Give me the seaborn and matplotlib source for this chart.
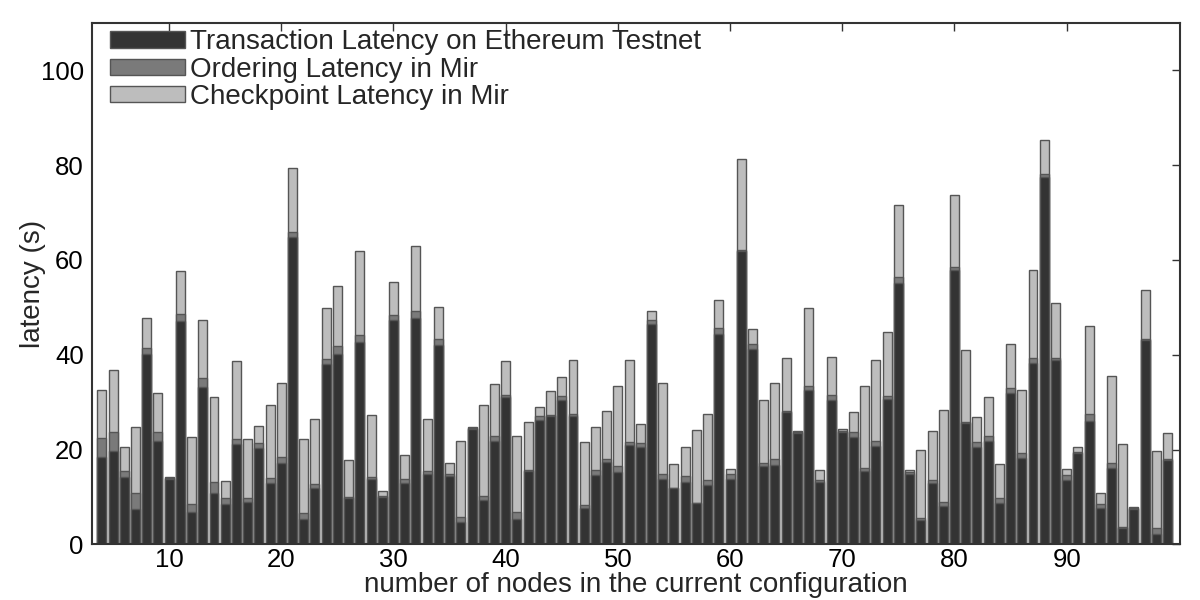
import numpy as np
import pandas as pd
import matplotlib
matplotlib.use("Agg")
import matplotlib.pyplot as plt
from matplotlib.patches import Patch
import seaborn as sns

nodes = list(range(4, 100))

# top of the dark segment (transaction latency)
tx_latency = [
    18.5, 19.6, 14.3, 7.4, 40.1, 21.7, 13.8, 47.1, 6.8, 33.2,
    10.9, 8.5, 21.1, 8.9, 20.4, 13.0, 17.2, 64.8, 5.3, 11.9,
    38.0, 40.1, 9.7, 42.7, 13.7, 9.9, 47.4, 13.0, 47.7, 14.9,
    42.1, 14.4, 4.8, 24.4, 9.4, 21.7, 31.0, 5.3, 15.4, 26.2,
    27.0, 30.5, 27.1, 7.7, 14.7, 17.3, 15.2, 20.9, 20.6, 46.5,
    13.7, 11.8, 13.2, 8.7, 12.5, 44.4, 13.8, 61.8, 41.2, 16.5,
    16.8, 27.9, 23.5, 32.5, 13.1, 30.4, 23.8, 22.6, 15.4, 20.8,
    30.6, 55.1, 14.9, 5.1, 12.9, 8.1, 57.8, 25.5, 20.6, 21.8,
    8.7, 32.0, 18.2, 38.2, 77.5, 38.8, 13.5, 19.2, 26.1, 7.7,
    16.1, 3.4, 7.4, 43.1, 2.2, 17.7,
]
# top of the medium segment (transaction + ordering)
ordering_top = [
    22.4, 23.6, 15.4, 10.8, 41.5, 23.7, 14.0, 48.5, 8.6, 35.0,
    13.1, 9.7, 22.3, 9.7, 21.3, 14.0, 18.5, 65.8, 6.7, 12.8,
    39.2, 41.8, 10.0, 44.1, 14.2, 10.2, 48.4, 13.8, 49.2, 15.5,
    43.3, 14.9, 5.8, 24.6, 10.2, 22.8, 31.6, 6.8, 15.6, 27.0,
    27.3, 31.4, 27.6, 8.3, 15.6, 18.1, 16.6, 21.6, 21.3, 47.4,
    14.9, 11.9, 14.5, 8.8, 13.5, 45.6, 14.9, 62.2, 42.2, 17.2,
    17.9, 28.1, 23.7, 33.5, 13.6, 31.5, 24.0, 23.6, 16.0, 21.8,
    31.4, 56.4, 15.2, 5.6, 13.5, 9.0, 58.5, 25.8, 21.6, 22.9,
    9.8, 33.0, 19.2, 39.4, 78.2, 39.4, 14.6, 19.5, 27.4, 8.5,
    17.2, 3.7, 7.6, 43.4, 3.4, 18.1,
]
# top of the light segment (transaction + ordering + checkpoint)
checkpoint_top = [
    32.5, 36.8, 20.6, 24.8, 47.8, 31.9, 14.1, 57.7, 22.7, 47.3,
    31.1, 13.4, 38.7, 22.2, 25.0, 29.5, 34.0, 79.4, 22.2, 26.4,
    49.9, 54.6, 17.8, 61.9, 27.2, 11.2, 55.3, 18.8, 63.0, 26.4,
    50.1, 17.1, 21.8, 24.7, 29.3, 33.9, 38.6, 22.8, 25.8, 28.9,
    32.3, 35.4, 38.8, 21.5, 24.7, 28.1, 33.3, 38.9, 25.3, 49.3,
    34.0, 16.9, 20.5, 24.1, 27.4, 51.6, 15.9, 81.4, 45.4, 30.4,
    34.0, 39.3, 23.9, 49.8, 15.7, 39.6, 24.4, 27.9, 33.4, 38.9,
    44.8, 71.6, 15.6, 19.9, 23.9, 28.3, 73.8, 41.1, 26.9, 31.1,
    16.9, 42.2, 32.5, 57.8, 85.3, 50.9, 15.9, 20.6, 46.0, 10.9,
    35.6, 21.1, 7.9, 53.7, 19.6, 23.4,
]

ordering_latency = [round(o - t, 1) for o, t in zip(ordering_top, tx_latency)]
checkpoint_latency = [round(c - o, 1) for c, o in zip(checkpoint_top, ordering_top)]

series_labels = [
    "Transaction Latency on Ethereum Testnet",
    "Ordering Latency in Mir",
    "Checkpoint Latency in Mir",
]
xticks = [10, 20, 30, 40, 50, 60, 70, 80, 90]
yticks = [0, 20, 40, 60, 80, 100]

df = pd.DataFrame({"nodes": nodes, "tx": tx_latency,
                   "ord": ordering_latency, "ckpt": checkpoint_latency})
df["s1"] = df["tx"]
df["s2"] = df["tx"] + df["ord"]
df["s3"] = df["s2"] + df["ckpt"]

sns.set_style("white")
plt.rcParams["font.family"] = ["Liberation Sans", "DejaVu Sans"]

c_dark, c_mid, c_light = "#333333", "#7a7a7a", "#bdbdbd"
edge = "#555555"

fig = plt.figure(figsize=(12, 6), dpi=100)
ax = fig.add_axes([0.0767, 0.0928, 0.9066, 0.8689])

for col, color in [("s3", c_light), ("s2", c_mid), ("s1", c_dark)]:
    sns.barplot(data=df, x="nodes", y=col, native_scale=True, color=color,
                saturation=1, errorbar=None, width=0.8, edgecolor=edge,
                linewidth=1.0, ax=ax)

ax.set_xlim(3.13, 100.1)
ax.set_ylim(0, 110)
ax.set_xticks(xticks)
ax.set_yticks(yticks)
ax.tick_params(direction="in", top=True, right=True, length=6, width=1,
               labelsize=18.5, colors="#333333", labelcolor="black")
ax.tick_params(axis="y", pad=6)
ax.tick_params(axis="x", pad=3)
for s in ax.spines.values():
    s.set_visible(True)
    s.set_linewidth(1.5)
    s.set_color("#333333")

ax.set_xlabel("number of nodes in the current configuration", fontsize=20, labelpad=0)
ax.set_ylabel("latency (s)", fontsize=20, labelpad=-4)

handles = [Patch(facecolor=c, edgecolor=edge, linewidth=1.0)
           for c in (c_dark, c_mid, c_light)]
ax.legend(handles, series_labels, loc="upper left", frameon=False,
          fontsize=20, handlelength=2.7, handleheight=0.54, labelspacing=0.05,
          handletextpad=0.18, borderaxespad=0, borderpad=0,
          bbox_to_anchor=(0.0165, 0.988))

fig.savefig("out.png", dpi=100)
